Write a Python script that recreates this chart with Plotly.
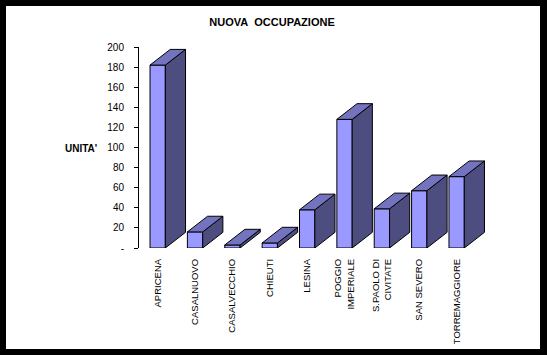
import plotly.graph_objects as go

categories = ["APRICENA", "CASALNUOVO", "CASALVECCHIO", "CHIEUTI", "LESINA",
              "POGGIO<br>IMPERIALE", "S.PAOLO DI<br>CIVITATE", "SAN SEVERO", "TORREMAGGIORE"]
values = [182, 16, 3, 5, 38, 128, 39, 57, 71]
y_tickvals = [0, 20, 40, 60, 80, 100, 120, 140, 160, 180, 200]
y_ticktext = ["-", "20", "40", "60", "80", "100", "120", "140", "160", "180", "200"]

W_FIG, H_FIG = 547, 355
L, R, T, B = 139, 53, 47, 107
PW = W_FIG - L - R
PH = H_FIG - T - B

bar_w = 0.41
dx = 0.54
dy = 15.6

FRONT = "#9999FF"
TOP = "#7373C0"
SIDE = "#4D4D80"
FONT = "Liberation Sans, Arial, sans-serif"

xs = list(range(len(categories)))

fig = go.Figure()
fig.add_trace(go.Bar(x=xs, y=values, width=bar_w,
                     marker=dict(color=FRONT, line=dict(color="black", width=1)),
                     hoverinfo="skip"))

side_x, side_y, top_x, top_y = [], [], [], []
for x, v in zip(xs, values):
    xl, xr = x - bar_w / 2, x + bar_w / 2
    side_x += [xr, xr + dx, xr + dx, xr, xr, None]
    side_y += [0, dy, v + dy, v, 0, None]
    top_x += [xl, xr, xr + dx, xl + dx, xl, None]
    top_y += [v, v, v + dy, v + dy, v, None]

fig.add_trace(go.Scatter(x=side_x, y=side_y, mode="lines", fill="toself",
                         fillcolor=SIDE, line=dict(color="black", width=1),
                         hoverinfo="skip", cliponaxis=False))
fig.add_trace(go.Scatter(x=top_x, y=top_y, mode="lines", fill="toself",
                         fillcolor=TOP, line=dict(color="black", width=1),
                         hoverinfo="skip", cliponaxis=False))

def px_x(px):
    return (px - L) / PW

def px_y(py):
    return (H_FIG - B - py) / PH

border = [(-20, -20, 6, H_FIG + 20), (540, -20, W_FIG + 20, H_FIG + 20),
          (-20, -20, W_FIG + 20, 6), (-20, 349, W_FIG + 20, H_FIG + 20)]
shapes = []
for x0, y0, x1, y1 in border:
    shapes.append(dict(type="rect", xref="paper", yref="paper",
                       x0=px_x(x0), x1=px_x(x1), y0=px_y(y1), y1=px_y(y0),
                       fillcolor="black", line=dict(width=0), layer="above"))

fig.update_layout(
    width=W_FIG, height=H_FIG,
    margin=dict(l=L, r=R, t=T, b=B, autoexpand=False),
    paper_bgcolor="white", plot_bgcolor="white",
    showlegend=False,
    font=dict(family=FONT, color="black", size=10),
    title=dict(text="<b>NUOVA\u00a0\u00a0OCCUPAZIONE</b>", x=272 / W_FIG, y=1 - 22 / H_FIG,
               xanchor="center", yanchor="middle", font=dict(size=11, family=FONT)),
    xaxis=dict(range=[-0.5, 9.0], tickvals=xs, ticktext=categories, tickangle=-90,
               showline=False, showgrid=False, zeroline=False, ticks="",
               automargin=False, ticklabelstandoff=8, tickfont=dict(size=9.5)),
    yaxis=dict(range=[0, 200], tickvals=y_tickvals, ticktext=y_ticktext,
               showline=True, linecolor="black", linewidth=1, ticks="outside",
               ticklen=4, tickcolor="black", showgrid=False, zeroline=False,
               automargin=False, ticklabelstandoff=8, tickfont=dict(size=10)),
    annotations=[dict(text="<b>UNITA'</b>", xref="paper", yref="paper",
                      x=px_x(81), y=px_y(148), xanchor="center", yanchor="middle",
                      showarrow=False, font=dict(size=10, family=FONT))],
    shapes=shapes,
)

fig.write_html("out.html")
